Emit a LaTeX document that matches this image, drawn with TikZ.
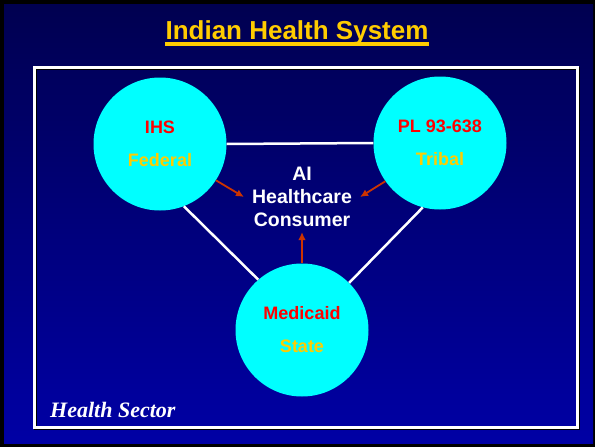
\documentclass[tikz,border=0pt]{standalone}
\usepackage{fontspec}
\setmainfont{Liberation Sans}
\newfontfamily\sectorfont{Liberation Serif}
\usetikzlibrary{arrows.meta}

\begin{document}
\begin{tikzpicture}[>={Latex[length=8pt,width=7.5pt]}, x=1pt, y=-1pt]

\definecolor{slidenavy}{RGB}{0, 0, 80}
\definecolor{slideblue}{RGB}{0, 0, 165}
\definecolor{ballcyan}{RGB}{0, 255, 255}
\definecolor{titlegold}{RGB}{255, 204, 0}
\definecolor{arrowrust}{RGB}{204, 51, 0}

\tikzset{
  ball/.style={circle, fill=ballcyan, minimum size=133pt, inner sep=0pt, align=center, font=\bfseries\fontsize{18}{33}\selectfont},
  link/.style={white, line width=2.5pt},
  feed/.style={->, arrowrust, line width=1.8pt},
}

% Fill background
\useasboundingbox (0,0) rectangle (595,447);
\fill[black] (0,0) rectangle (595,447);
\shade[top color=slidenavy, bottom color=slideblue] (4,4) rectangle (593,443);

% TITLE
\node[text=titlegold, font=\bfseries\fontsize{26}{30}\selectfont, inner sep=0pt, anchor=base] (title) at (297,39.5) {Indian Health System};
\draw[titlegold, line width=3.5pt] ([yshift=-4.5pt]title.base west) -- ([yshift=-4.5pt]title.base east);

% Sector frame
\draw[black, line width=3pt] (35.5,68.5) rectangle (578.5,428.5);
\draw[white, line width=3pt] (34,67) rectangle (577,427);

% The three players
\node[ball] (ihs) at (160,144) {\textcolor{red}{IHS}\\\textcolor{titlegold}{Federal}};
\node[ball] (tribal) at (440,143) {\textcolor{red}{PL 93-638}\\\textcolor{titlegold}{Tribal}};
\node[ball] (medicaid) at (302,330) {\textcolor{red}{Medicaid}\\\textcolor{titlegold}{State}};

\draw[link] (ihs.east) -- (tribal.west);
\draw[link] (ihs.-69) -- (medicaid.131);
\draw[link] (tribal.255) -- (medicaid.45);

% Consumer in the middle
\node[text=white, align=center, inner xsep=8pt, inner ysep=5pt, font=\bfseries\fontsize{19.5}{23}\selectfont] (consumer) at (302,197) {AI\\Healthcare\\Consumer};

\draw[feed] (ihs.-33) -- (consumer.west);
\draw[feed] (tribal.215) -- (consumer.east);
\draw[feed] (medicaid.north) -- (consumer.south);

\node[anchor=base west, text=white, inner sep=0pt, font=\sectorfont\bfseries\itshape\fontsize{22}{26}\selectfont] (sector) at (50,417) {Health Sector};

\end{tikzpicture}
\end{document}
